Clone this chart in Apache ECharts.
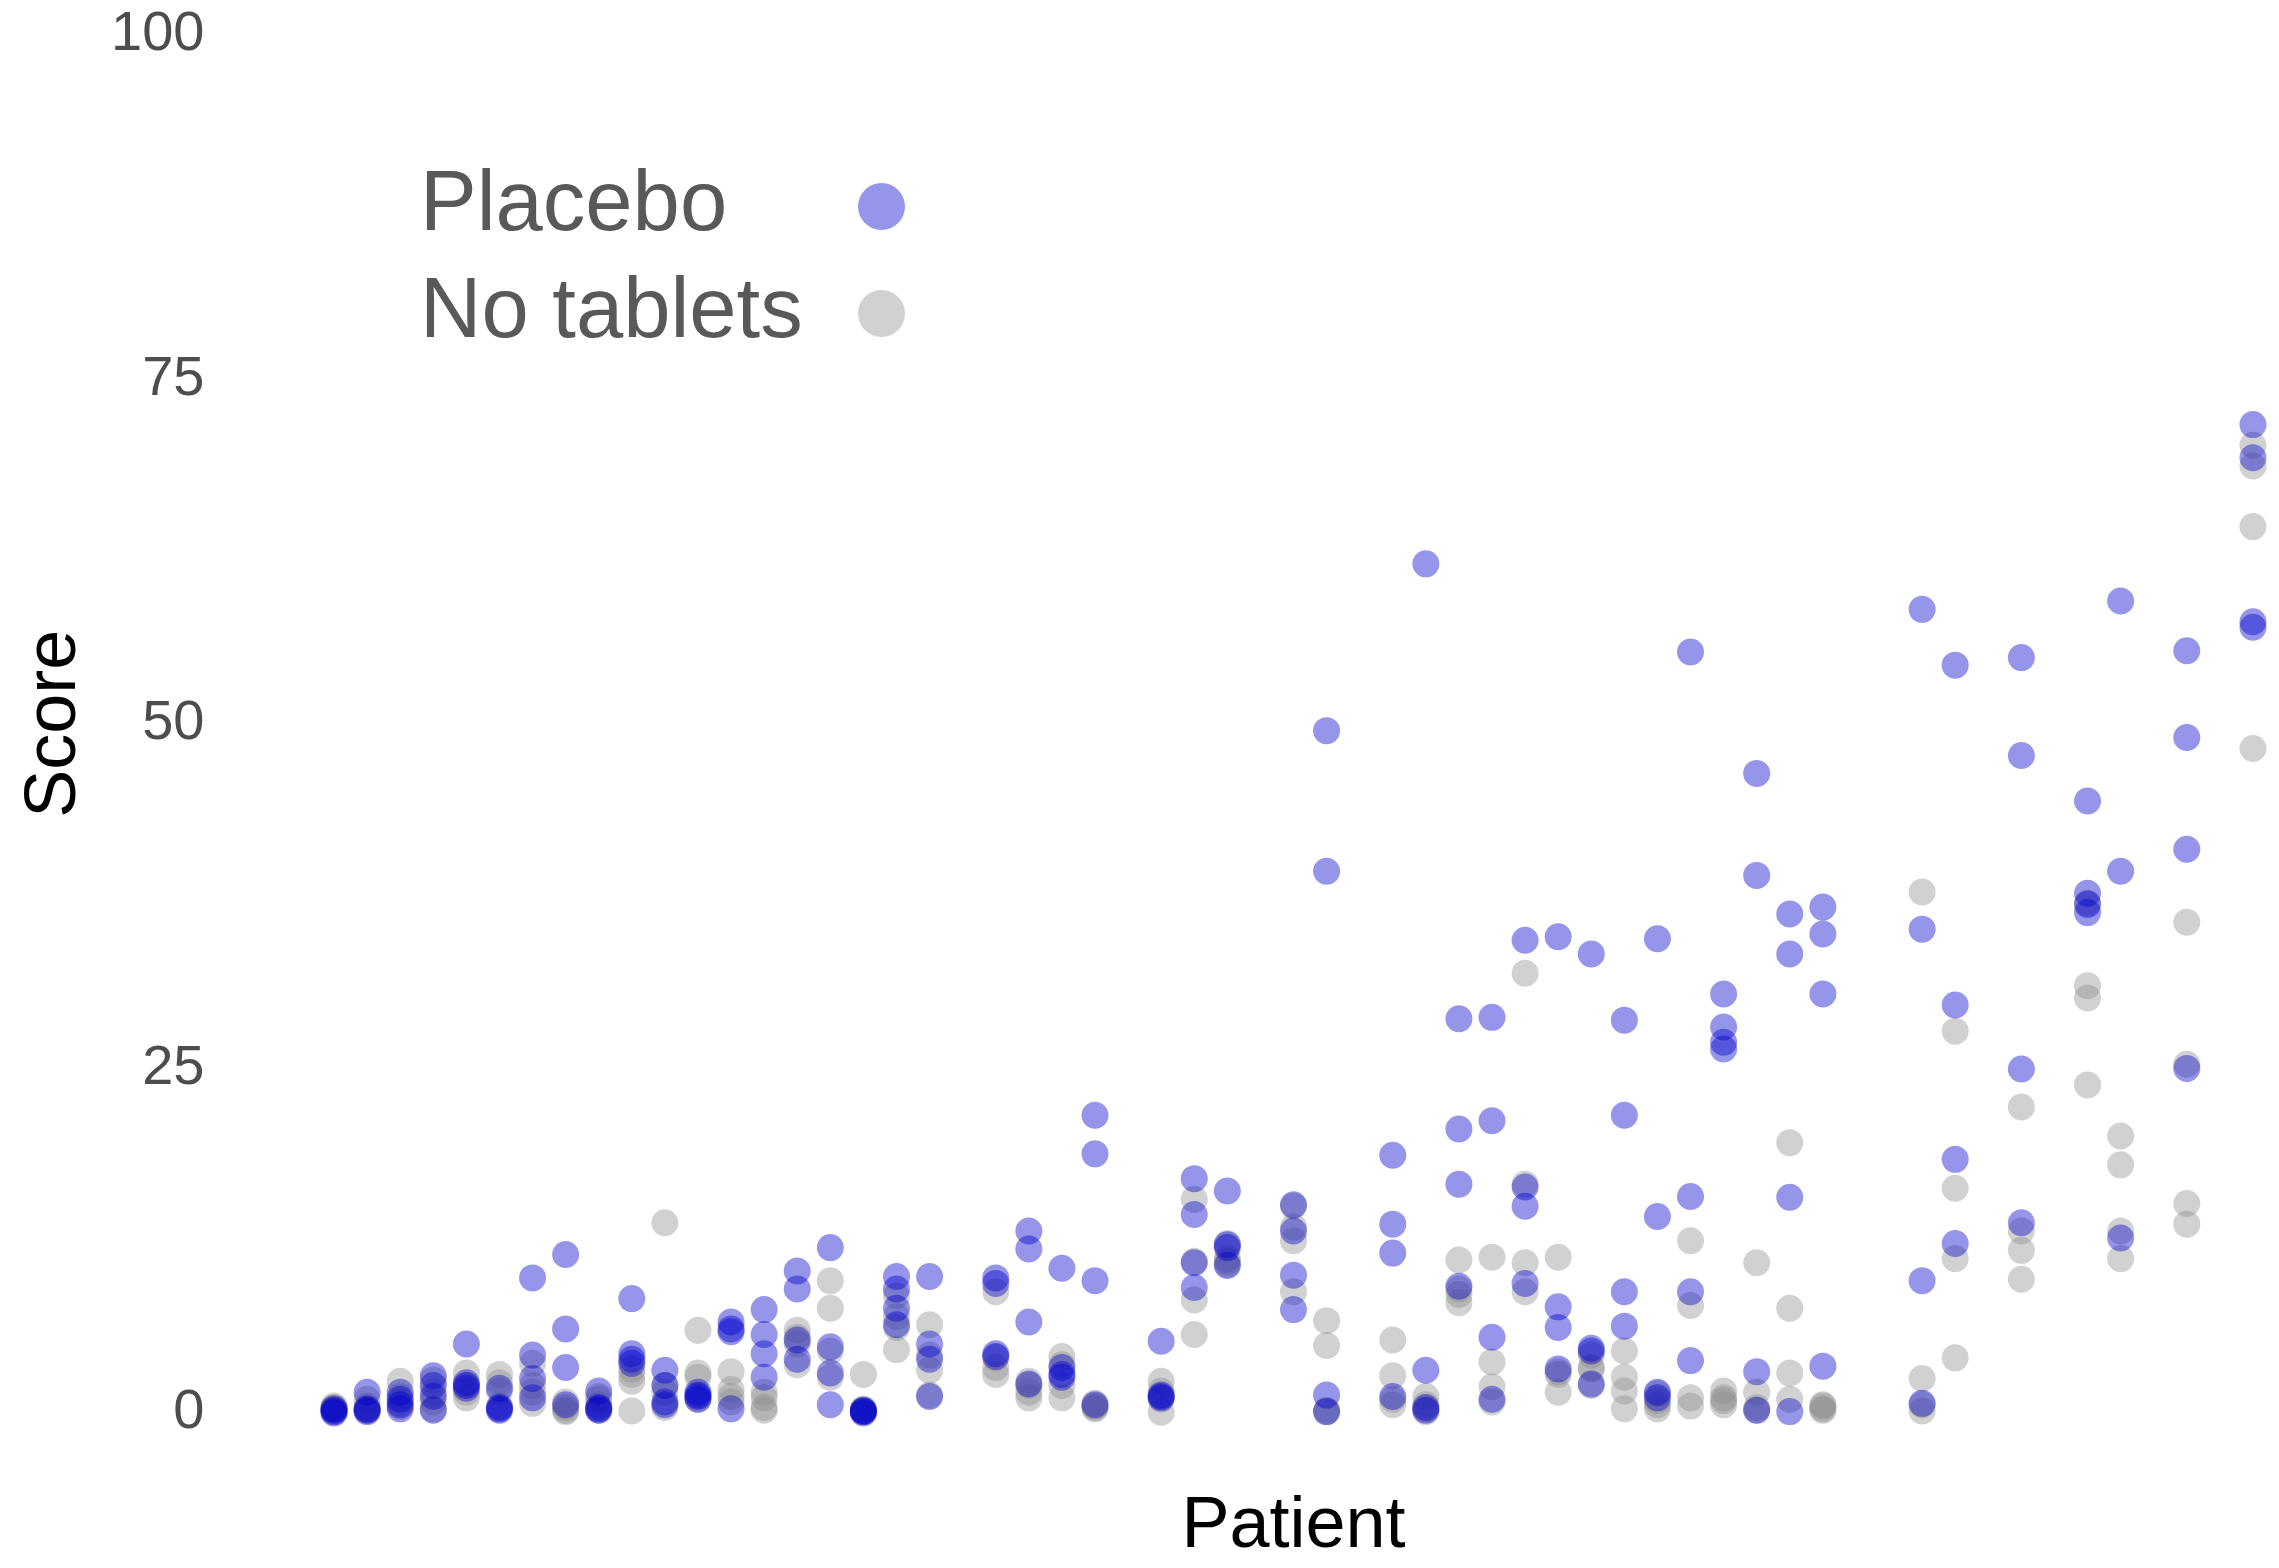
<!DOCTYPE html>
<html><head><meta charset="utf-8">
<script src="https://cdn.jsdelivr.net/npm/echarts@6/dist/echarts.min.js"></script>
<style>html,body{margin:0;padding:0;background:#fff}#c{width:2279px;height:1568px}</style>
</head><body><div id="c"></div>
<script>
const patients = ['1','2','3','4','5','6','7','8','9','10','11','12','13','14','15','16','17','18','19','20',
  '21','22','23','24','25','26','27','28','29','30','31','32','33','34','35','36','37','38','39','40',
  '41','42','43','44','45','46','47','48','49','50','51','52','53','54','55','56','57','58','59'];

const placeboScores = [
  [0.1,0.2,0.3,0.0],[1.5,0.3,0.1,0.2],[1.5,1.0,0.6,0.3],[2.7,2.0,1.2,0.2],[5.0,2.2,1.8,2.0],
  [1.8,0.3,0.2,0.4],[9.8,4.2,2.5,1.1],[11.5,6.1,3.3,0.6],[1.6,0.3,0.4,0.2],[8.3,4.3,3.9,3.6],
  [3.1,2.0,0.6,0.8],[1.5,1.2,1.3,1.0],[6.6,6.1,5.9,0.3],[7.5,5.7,4.3,2.6],[10.3,9.0,5.3,3.9],
  [12.0,4.8,2.9,0.6],[0.1,0.2,0.0,0.15],[9.9,9.0,7.6,6.4],[9.9,5.0,3.9,1.2],[],
  [9.8,9.4,4.1,4.3],[13.2,11.9,6.6,2.1],[10.5,3.3,2.6,2.8],[21.6,18.8,9.6,0.6],[],
  [5.2,1.3,1.1,1.2],[17.0,14.4,10.9,9.1],[16.1,12.2,12.0,10.7],[],[15.1,13.2,10.0,7.5],
  [49.5,39.3,1.3,0.1],[],[18.7,13.7,11.6,1.2],[61.6,3.1,0.4,0.2],[28.6,20.6,16.6,9.2],
  [28.7,21.2,5.5,1.0],[34.3,16.4,15.0,9.4],[34.55,7.7,6.2,3.2],[33.3,4.7,4.5,2.1],[28.5,21.6,8.8,6.3],
  [34.4,14.25,1.5,1.1],[55.2,15.7,8.8,3.8],[30.4,28.0,26.9,26.4],[46.4,39.0,3.0,0.2],[36.2,33.3,15.65,0.1],
  [36.7,34.75,30.4,3.4],[],[],[58.3,35.1,9.6,0.7],[54.25,29.6,18.4,12.3],
  [],[54.8,47.7,24.95,13.8],[],[44.4,37.7,36.9,36.3],[58.9,39.3,12.7],
  [],[55.3,49.0,40.9,25.0],[],[71.7,69.3,57.4,57.0]
];

const noTabletScores = [
  [0.5,0.3,0.2,0.4],[0.5,1.0,0.2,0.3],[2.3,1.2,0.5,0.8],[0.3,1.5,2.4,0.8],[2.9,1.1,1.5,2.0],
  [2.8,2.2,0.5,1.6],[3.6,0.7,2.0,1.5],[0.1,0.4,0.8,0.2],[1.0,0.2,0.6,1.2],[2.3,0.15,2.8,3.2],
  [13.8,0.4,1.5,2.0],[6.0,2.9,2.6,1.0],[3.0,1.7,1.2,0.8],[1.1,0.2,1.5,0.4],[6.0,5.0,5.5,3.5],
  [9.6,7.6,4.5,2.6],[2.8,0.2,0.1,0.3],[4.6,8.5,7.0,6.2],[6.4,3.1,4.2,1.3],[],
  [8.8,2.8,3.3,4.0],[1.1,2.0,2.3,1.5],[4.1,1.1,2.0,3.5],[0.4,0.5,0.3,0.7],[],
  [2.3,0.05,1.0,1.6],[15.5,11.0,8.2,5.7],[11.2,11.0,10.8,12.3],[],[15.0,13.5,12.5,8.8],
  [6.7,4.9,0.2,0.1],[],[5.3,2.7,0.6,1.0],[1.2,0.6,0.3,0.1],[11.1,8.0,8.6,9.0],
  [11.3,3.7,1.9,0.8],[31.9,16.6,10.9,8.8],[11.3,1.5,3.0,2.8],[4.2,3.3,3.2,2.0],[4.5,2.6,1.6,0.3],
  [1.4,0.9,0.3,0.6],[12.5,7.8,1.1,0.5],[1.6,1.1,0.6,0.9],[10.9,1.5,0.2,0.4],[19.6,7.6,2.9,1.0],
  [0.3,0.5,0.2,0.6],[],[],[37.8,2.5,0.15,0.6],[27.7,16.3,11.2,4.0],
  [],[22.2,13.2,11.8,9.7],[],[31.0,30.1,23.8,37.0],[20.1,18.0,13.2,11.2],
  [],[35.6,25.3,15.2,13.7],[],[70.2,68.7,64.3,48.2]
];

const yTicks = [0, 25, 50, 75, 100];
const seriesNames = ['Placebo', 'No tablets'];

function toPoints(rows) {
  const out = [];
  rows.forEach((vals, i) => vals.forEach(v => out.push([patients[i], v])));
  return out;
}

const FONT = '"Liberation Sans", Arial, Helvetica, sans-serif';
const chart = echarts.init(document.getElementById('c'), null, {renderer: 'canvas', width: 2279, height: 1568});
chart.setOption({
  animation: false,
  backgroundColor: '#ffffff',
  textStyle: {fontFamily: FONT},
  grid: {left: 317.5, right: 9.5, top: 34.5, bottom: 151, containLabel: false},
  xAxis: {
    type: 'category', data: patients, boundaryGap: true,
    axisLine: {show: false}, axisTick: {show: false}, axisLabel: {show: false}, splitLine: {show: false},
    name: 'Patient', nameLocation: 'middle', nameGap: 78,
    nameTextStyle: {fontSize: 72, color: '#000000', fontFamily: FONT}
  },
  yAxis: {
    type: 'value', min: yTicks[0], max: yTicks[yTicks.length - 1], interval: 25,
    axisLine: {show: false}, axisTick: {show: false}, splitLine: {show: false},
    axisLabel: {fontSize: 56, color: '#4d4d4d', margin: 113, fontFamily: FONT},
    name: 'Score', nameLocation: 'middle', nameRotate: 90, nameGap: 226,
    nameTextStyle: {fontSize: 72, color: '#000000', fontFamily: FONT}
  },
  legend: {
    orient: 'vertical', left: 420, top: 164, padding: 0, align: 'right',
    itemWidth: 47, itemHeight: 47, itemGap: 22, icon: 'circle', selectedMode: false,
    data: seriesNames,
    formatter: n => '{t|' + n + '}',
    textStyle: {
      color: '#595959', fontSize: 85, fontFamily: FONT,
      rich: {t: {width: 433, align: 'left', fontSize: 85, color: '#595959', fontFamily: FONT}}
    }
  },
  series: [
    {name: seriesNames[1], type: 'scatter', data: toPoints(noTabletScores), symbolSize: 27, clip: false,
     itemStyle: {color: 'rgba(140,140,140,0.5)'}, emphasis: {disabled: true}},
    {name: seriesNames[0], type: 'scatter', data: toPoints(placeboScores), symbolSize: 27, clip: false,
     itemStyle: {color: 'rgba(0,0,205,0.52)'}, emphasis: {disabled: true}}
  ]
});
</script>
</body></html>
